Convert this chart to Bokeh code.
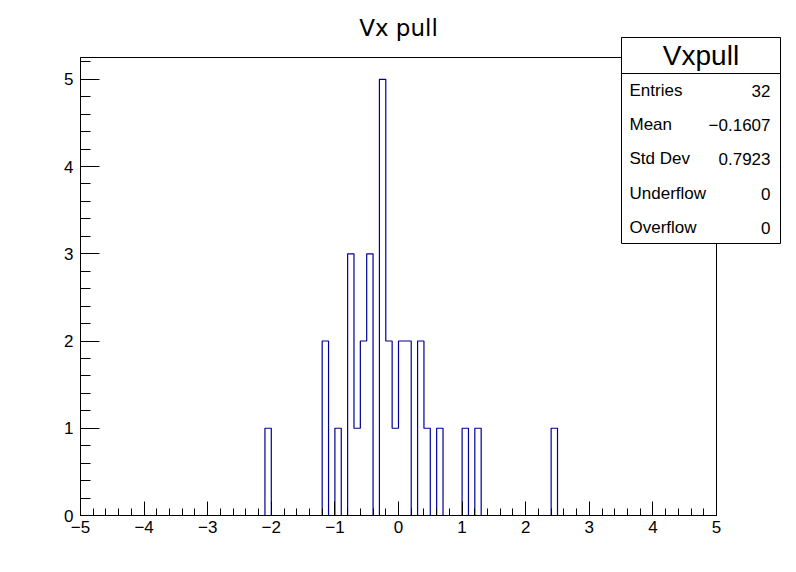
import numpy as np
from bokeh.plotting import figure
from bokeh.models import (Range1d, SingleIntervalTicker, Label, BoxAnnotation)
from bokeh.embed import file_html
from bokeh.resources import INLINE

# ---- data ----
hist_title = "Vx pull"
stats_name = "Vxpull"
x_min, x_max, n_bins = -5.0, 5.0, 100
filled_bin_low_edges = [-2.1, -1.2, -1.0, -0.8, -0.7, -0.6, -0.5, -0.3, -0.2, -0.1,
                        0.0, 0.1, 0.3, 0.4, 0.6, 1.0, 1.2, 2.4]
filled_bin_counts = [1, 2, 1, 3, 1, 2, 3, 5, 2, 1,
                     2, 2, 2, 1, 1, 1, 1, 1]
stats_labels = ["Entries", "Mean", "Std Dev", "Underflow", "Overflow"]
stats_values = ["32", "\u22120.1607", "0.7923", "0", "0"]
x_ticks = [-5, -4, -3, -2, -1, 0, 1, 2, 3, 4, 5]
y_ticks = [0, 1, 2, 3, 4, 5]

# ---- build histogram outline ----
edges = np.round(np.linspace(x_min, x_max, n_bins + 1), 10)
counts = np.zeros(n_bins)
width = (x_max - x_min) / n_bins
for lo, c in zip(filled_bin_low_edges, filled_bin_counts):
    idx = int(round((lo - x_min) / width))
    counts[idx] = c
xs = np.repeat(edges, 2)
ys = np.concatenate([[0.0], np.repeat(counts, 2), [0.0]])
y_top = counts.max() * 1.05

# ---- layout (canvas pixels of the ROOT frame) ----
W, H = 796, 572
FL, FR, FT, FB = 80, 716, 57, 515
xpx = (FR - FL) / (x_max - x_min)
ypx = (FB - FT) / (y_top - 0.0)
xr = Range1d(x_min - FL / xpx, x_max + (W - FR) / xpx)
yr = Range1d(0.0 - (H - FB) / ypx, y_top + FT / ypx)

FONT = "Liberation Sans"

p = figure(width=W, height=H, x_range=xr, y_range=yr,
           min_border_left=0, min_border_right=0,
           min_border_top=0, min_border_bottom=0,
           output_backend="svg", toolbar_location=None)
p.grid.visible = False
p.outline_line_color = None
p.background_fill_color = "white"
p.border_fill_color = "white"

# ROOT frame
p.add_layout(BoxAnnotation(left=x_min, right=x_max, bottom=0.0, top=y_top,
                           fill_color=None, fill_alpha=0.0,
                           line_color="black", line_width=1, line_alpha=1.0,
                           level="underlay"))

p.line(xs, ys, line_color="#000099", line_width=1.2)

# axes
p.xaxis.ticker = SingleIntervalTicker(interval=1, num_minor_ticks=5)
p.yaxis.ticker = SingleIntervalTicker(interval=1, num_minor_ticks=5)
p.xaxis.fixed_location = 0.0
p.yaxis.fixed_location = x_min
p.xaxis.bounds = (x_min, x_max)
p.yaxis.bounds = (0.0, y_top)
for ax in (p.xaxis[0], p.yaxis[0]):
    ax.axis_line_color = "black"
    ax.major_tick_line_color = "black"
    ax.minor_tick_line_color = "black"
    ax.major_tick_out = 0
    ax.minor_tick_out = 0
    ax.major_label_text_font = FONT
    ax.major_label_text_font_size = "17px"
    ax.major_label_text_color = "black"
p.xaxis.major_tick_in = 14
p.xaxis.minor_tick_in = 7
p.xaxis.major_label_standoff = 5
p.yaxis.major_tick_in = 19
p.yaxis.minor_tick_in = 10
p.yaxis.major_label_standoff = 7
p.xaxis.major_label_overrides = {t: (str(t).replace("-", "\u2212")) for t in x_ticks}
p.yaxis.major_label_overrides = {t: str(t) for t in y_ticks}

# title
p.add_layout(Label(x=W / 2, y=H - 27.7, x_units="screen", y_units="screen", text=hist_title,
                   text_align="center", text_baseline="alphabetic",
                   text_font="DejaVu Sans", text_font_size="23px", text_color="black"))

# stats box
def sy(Y):
    return H - Y

p.add_layout(BoxAnnotation(left=621, right=780, top=sy(37), bottom=sy(243),
                           left_units="screen", right_units="screen",
                           top_units="screen", bottom_units="screen",
                           fill_color="white", fill_alpha=1.0,
                           line_color="black", line_width=1, line_alpha=1.0,
                           level="overlay"))
p.add_layout(BoxAnnotation(left=621, right=780, top=sy(37), bottom=sy(73),
                           left_units="screen", right_units="screen",
                           top_units="screen", bottom_units="screen",
                           fill_color="white", fill_alpha=1.0,
                           line_color="black", line_width=1, line_alpha=1.0,
                           level="overlay"))
p.add_layout(Label(x=700.5, y=sy(55), x_units="screen", y_units="screen", text=stats_name,
                   text_align="center", text_baseline="middle",
                   text_font=FONT, text_font_size="28px", text_color="black",
                   level="overlay"))
row_Y = [90, 124, 158, 193, 227]
for lab, val, Y in zip(stats_labels, stats_values, row_Y):
    p.add_layout(Label(x=629, y=sy(Y), x_units="screen", y_units="screen", text=lab,
                       text_align="left", text_baseline="middle",
                       text_font=FONT, text_font_size="17px", text_color="black",
                       level="overlay"))
    p.add_layout(Label(x=770, y=sy(Y), x_units="screen", y_units="screen", text=val,
                       text_align="right", text_baseline="middle",
                       text_font=FONT, text_font_size="17px", text_color="black",
                       level="overlay"))

open("out.html", "w").write(file_html(p, INLINE))
